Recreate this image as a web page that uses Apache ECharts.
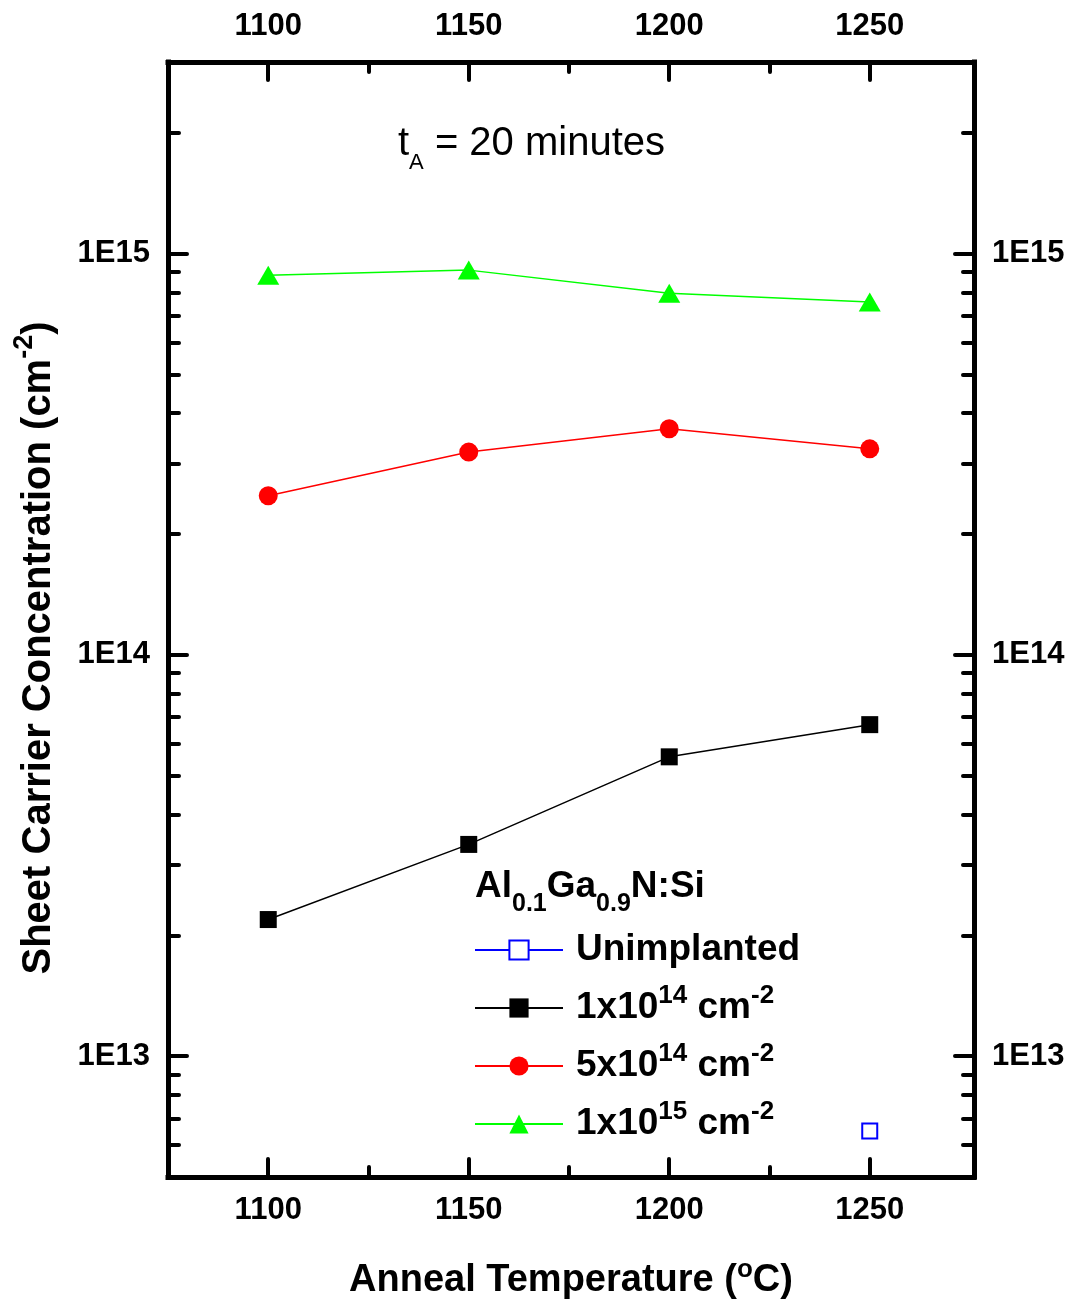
<!DOCTYPE html>
<html><head><meta charset="utf-8">
<script src="https://cdn.jsdelivr.net/npm/echarts@6/dist/echarts.min.js"></script>
<style>html,body{margin:0;padding:0;background:#fff}#c{width:1071px;height:1304px}</style>
</head><body><div id="c"></div>
<script>
// ---- data ----
const temperatures = [1100, 1150, 1200, 1250];
const seriesNames = ['Unimplanted', '1x10^14 cm^-2', '5x10^14 cm^-2', '1x10^15 cm^-2'];
const unimplanted = [null, null, null, 6.51e12];
const dose1e14 = [2.19e13, 3.37e13, 5.57e13, 6.70e13];
const dose5e14 = [2.49e14, 3.20e14, 3.66e14, 3.26e14];
const dose1e15 = [8.83e14, 9.09e14, 7.96e14, 7.57e14];
const xMajorTicks = [1100, 1150, 1200, 1250];
const xMinorTicks = [1125, 1175, 1225];
const yMajorTicks = [1e13, 1e14, 1e15];
const yMinorTicks = [6e12, 7e12, 8e12, 9e12,
  2e13, 3e13, 4e13, 5e13, 6e13, 7e13, 8e13, 9e13,
  2e14, 3e14, 4e14, 5e14, 6e14, 7e14, 8e14, 9e14,
  2e15, 3e15];
const xMin = 1075, xMax = 1276;
const yMin = 5e12, yMax = 3e15;

// ---- chart ----
const FONT = '"Liberation Sans", Arial, sans-serif';
const lg = v => Math.log10(v);
const toPairs = vals => temperatures.map((t, i) => vals[i] == null ? null : [t, lg(vals[i])]).filter(p => p);

function xAxisDef(pos, major, showLabel, margin) {
  return {
    type: 'value', position: pos, min: xMin, max: xMax,
    axisLine: { show: major, onZero: false, lineStyle: { color: '#000', width: 5, cap: 'square' } },
    axisTick: { show: true, inside: true, length: major ? 18 : 10,
      customValues: major ? xMajorTicks : xMinorTicks,
      lineStyle: { color: '#000', width: 4, cap: 'round' } },
    axisLabel: { show: showLabel, customValues: xMajorTicks, margin: margin,
      formatter: v => String(Math.round(v)),
      fontFamily: FONT, fontSize: 31, fontWeight: 'bold', color: '#000', lineHeight: 31 },
    splitLine: { show: false }, axisPointer: { show: false }
  };
}
function yAxisDef(pos, major, showLabel) {
  return {
    type: 'value', position: pos, min: lg(yMin), max: lg(yMax),
    axisLine: { show: major, onZero: false, lineStyle: { color: '#000', width: 5, cap: 'square' } },
    axisTick: { show: true, inside: true, length: major ? 19 : 11,
      customValues: (major ? yMajorTicks : yMinorTicks).map(lg),
      lineStyle: { color: '#000', width: 4, cap: 'round' } },
    axisLabel: { show: showLabel, customValues: yMajorTicks.map(lg), margin: 18,
      formatter: v => '1E' + Math.round(v), padding: [0, 0, 5, 0],
      fontFamily: FONT, fontSize: 31, fontWeight: 'bold', color: '#000', lineHeight: 31 },
    splitLine: { show: false }, axisPointer: { show: false }
  };
}

const chart = echarts.init(document.getElementById('c'), null, { renderer: 'canvas' });
chart.setOption({
  animation: false,
  backgroundColor: '#fff',
  grid: { left: 168, right: 97, top: 62, bottom: 127, containLabel: false, outerBoundsMode: 'none' },
  xAxis: [
    Object.assign(xAxisDef('bottom', true, true, 18), {
      name: 'Anneal Temperature ({sup|o}C)', nameLocation: 'middle', nameGap: 80,
      nameTextStyle: { fontFamily: FONT, fontSize: 38, fontWeight: 'bold', color: '#000', lineHeight: 48,
        rich: { sup: { fontFamily: FONT, fontSize: 26, fontWeight: 'bold', color: '#000', verticalAlign: 'top' } } }
    }),
    xAxisDef('bottom', false, false, 18),
    xAxisDef('top', true, true, 20),
    xAxisDef('top', false, false, 20)
  ],
  yAxis: [
    yAxisDef('left', true, true),
    yAxisDef('left', false, false),
    yAxisDef('right', true, true),
    yAxisDef('right', false, false)
  ],
  legend: {
    orient: 'vertical', left: 474, top: 925, padding: 0, itemWidth: 88, itemHeight: 24, itemGap: 8,
    selectedMode: false, data: seriesNames,
    formatter: n => n.replace(/\^(-?\d+)/g, '{sup|$1}'),
    textStyle: { fontFamily: FONT, fontSize: 37, fontWeight: 'bold', color: '#000', lineHeight: 50, padding: [0, 0, 0, 8],
      rich: { sup: { fontFamily: FONT, fontSize: 26, fontWeight: 'bold', color: '#000', verticalAlign: 'top' } } }
  },
  graphic: [
    { type: 'text', left: 398, top: 114, style: {
      text: 't{sub|A} = 20 minutes', fontFamily: FONT, fontSize: 40, fill: '#000', lineHeight: 60,
      rich: { sub: { fontFamily: FONT, fontSize: 22, fill: '#000', lineHeight: 6, verticalAlign: 'bottom' } } } },
    { type: 'text', left: 475, top: 857, style: {
      text: 'Al{sub|0.1}Ga{sub|0.9}N:Si', fontFamily: FONT, fontSize: 37, fontWeight: 'bold', fill: '#000', lineHeight: 60,
      rich: { sub: { fontFamily: FONT, fontSize: 25, fontWeight: 'bold', fill: '#000', lineHeight: 22, verticalAlign: 'bottom' } } } },
    { type: 'text', x: 39, y: 648, rotation: Math.PI / 2, style: {
      text: 'Sheet Carrier Concentration (cm{sup|-2})', fontFamily: FONT, fontSize: 40, fontWeight: 'bold', fill: '#000',
      lineHeight: 56, align: 'center', verticalAlign: 'middle',
      rich: { sup: { fontFamily: FONT, fontSize: 27, fontWeight: 'bold', fill: '#000', verticalAlign: 'top' } } } }
  ],
  series: [
    { name: seriesNames[0], type: 'line', data: toPairs(unimplanted), symbol: 'emptyRect', symbolSize: 15,
      itemStyle: { color: '#0000ff', borderColor: '#0000ff', borderWidth: 2 }, lineStyle: { color: '#0000ff', width: 1.5 } },
    { name: seriesNames[1], type: 'line', data: toPairs(dose1e14), symbol: 'rect', symbolSize: 17,
      itemStyle: { color: '#000' }, lineStyle: { color: '#000', width: 1.5 } },
    { name: seriesNames[2], type: 'line', data: toPairs(dose5e14), symbol: 'circle', symbolSize: 19,
      itemStyle: { color: '#ff0000' }, lineStyle: { color: '#ff0000', width: 1.5 } },
    { name: seriesNames[3], type: 'line', data: toPairs(dose1e15), symbol: 'triangle', symbolSize: [22, 19],
      itemStyle: { color: '#00ff00' }, lineStyle: { color: '#00ff00', width: 1.5 } }
  ]
});
</script></body></html>
